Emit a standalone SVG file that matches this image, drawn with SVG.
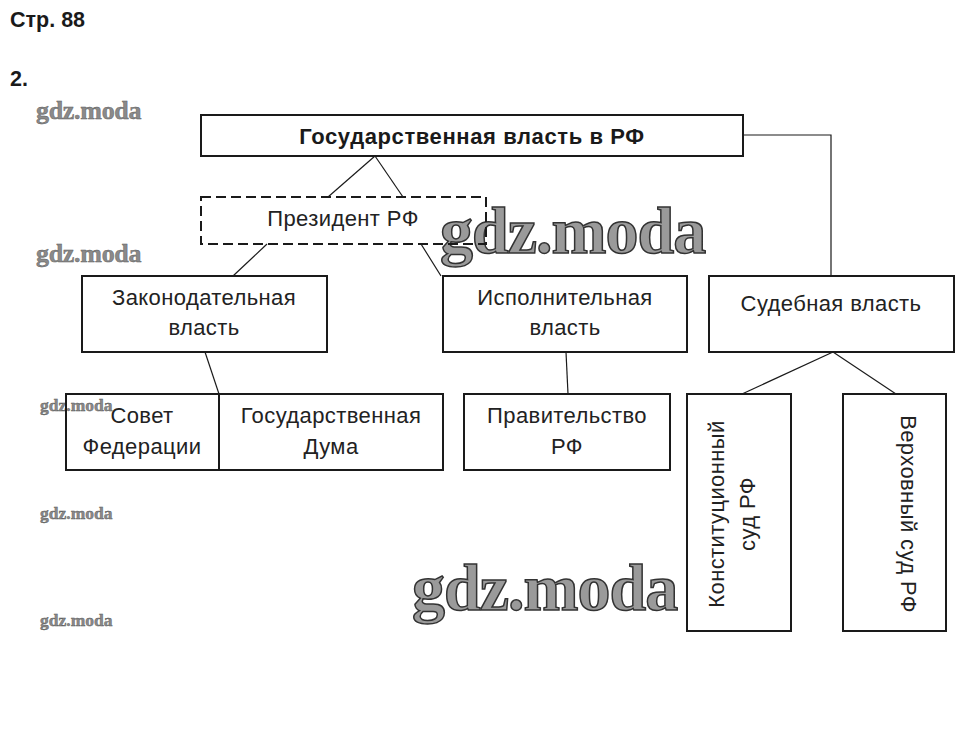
<svg xmlns="http://www.w3.org/2000/svg" width="965" height="753" viewBox="0 0 965 753">
<style>
.box{fill:none;stroke:#1a1a1a;stroke-width:2}
.dash{fill:none;stroke:#1a1a1a;stroke-width:2;stroke-dasharray:10 5}
.ln{fill:none;stroke:#1a1a1a;stroke-width:1.2}
.t{font-family:"Liberation Sans",Arial,sans-serif;font-size:22px;fill:#222;text-anchor:middle;letter-spacing:0.4px}
.h{font-family:"Liberation Sans",Arial,sans-serif;font-weight:bold;fill:#1a1a1a}
.wm{font-family:"Liberation Serif","DejaVu Serif",serif;font-weight:bold;fill:#8a8a8a;stroke:#555;stroke-width:0.4}
.wmb{font-family:"Liberation Serif","DejaVu Serif",serif;font-weight:bold;fill:#9a9a9a;stroke:#333;stroke-width:1.5}
</style>
<rect width="965" height="753" fill="#fff"/>
<text class="h" x="10" y="27" font-size="21.5">Стр. 88</text>
<text class="h" x="10" y="86" font-size="21.5">2.</text>

<g id="watermarks">
<text class="wm" x="36" y="119" font-size="26" letter-spacing="-0.3">gdz.moda</text>
<text class="wm" x="36" y="262" font-size="26" letter-spacing="-0.3">gdz.moda</text>
<text class="wm" x="40" y="411" font-size="17.5" letter-spacing="0">gdz.moda</text>
<text class="wm" x="40" y="519" font-size="17.5" letter-spacing="0">gdz.moda</text>
<text class="wm" x="40" y="626" font-size="17.5" letter-spacing="0">gdz.moda</text>
<text class="wmb" x="440" y="253" font-size="66" letter-spacing="-1">gdz.moda</text>
<text class="wmb" x="412" y="610" font-size="66" letter-spacing="-1">gdz.moda</text>
</g>

<g id="connectors">
<line class="ln" x1="375" y1="156" x2="328" y2="197"/>
<line class="ln" x1="375" y1="156" x2="403" y2="197"/>
<line class="ln" x1="267" y1="244" x2="233" y2="276"/>
<line class="ln" x1="421" y1="244" x2="441" y2="276"/>
<polyline class="ln" points="743,135 831,135 831,276"/>
<line class="ln" x1="205" y1="352" x2="219" y2="394"/>
<line class="ln" x1="566" y1="352" x2="568" y2="394"/>
<line class="ln" x1="833" y1="352" x2="742" y2="394"/>
<line class="ln" x1="833" y1="352" x2="896" y2="394"/>
</g>

<g id="n-root">
<rect class="box" x="201" y="115" width="542" height="41"/>
<text class="h" x="472" y="144" font-size="22" text-anchor="middle" letter-spacing="0.6">Государственная власть в РФ</text>
</g>

<g id="n-president">
<rect class="dash" x="201" y="197" width="285" height="47"/>
<text class="t" x="343" y="226">Президент РФ</text>
</g>

<g id="n-legis">
<rect class="box" x="82" y="276" width="245" height="76"/>
<text class="t" x="204" y="305">Законодательная</text>
<text class="t" x="204" y="335">власть</text>
</g>

<g id="n-exec">
<rect class="box" x="443" y="276" width="244" height="76"/>
<text class="t" x="565" y="305">Исполнительная</text>
<text class="t" x="565" y="335">власть</text>
</g>

<g id="n-jud">
<rect class="box" x="709" y="276" width="245" height="76"/>
<text class="t" x="831" y="311">Судебная власть</text>
</g>

<g id="n-parl">
<rect class="box" x="66" y="394" width="377" height="76"/>
<line class="box" x1="219" y1="394" x2="219" y2="470"/>
<text class="t" x="142" y="423">Совет</text>
<text class="t" x="142" y="454">Федерации</text>
<text class="t" x="331" y="423">Государственная</text>
<text class="t" x="331" y="454">Дума</text>
</g>

<g id="n-gov">
<rect class="box" x="464" y="394" width="206" height="76"/>
<text class="t" x="567" y="423">Правительство</text>
<text class="t" x="567" y="454">РФ</text>
</g>

<g id="n-const">
<rect class="box" x="687" y="394" width="104" height="237"/>
<text class="t" transform="translate(724,514) rotate(-90)">Конституционный</text>
<text class="t" transform="translate(755,514) rotate(-90)">суд РФ</text>
</g>

<g id="n-supreme">
<rect class="box" x="843" y="394" width="103" height="237"/>
<text class="t" transform="translate(901,514) rotate(90)">Верховный суд РФ</text>
</g>
</svg>
